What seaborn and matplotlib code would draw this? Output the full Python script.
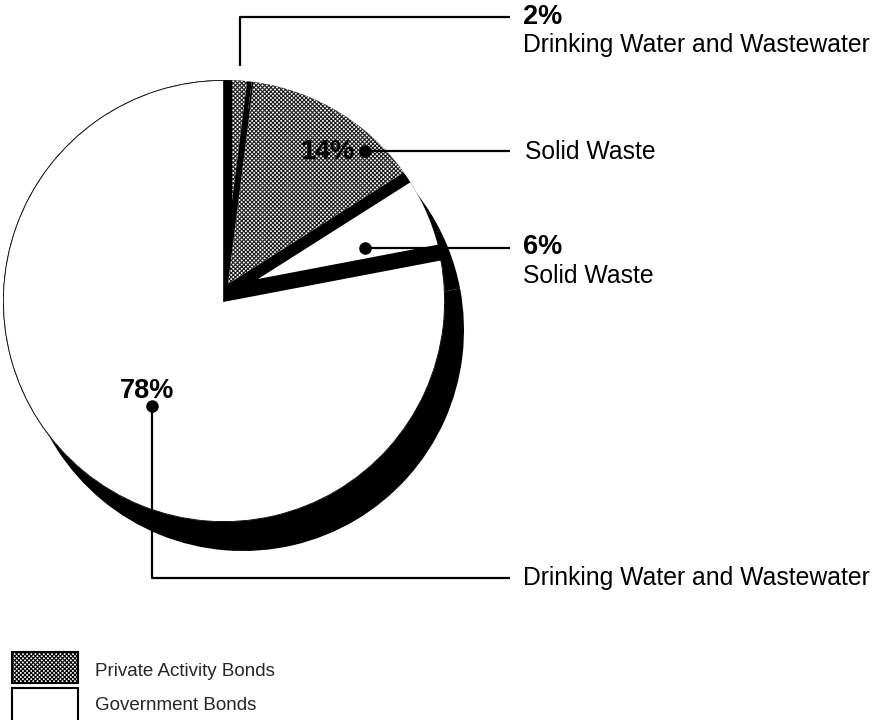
import matplotlib
matplotlib.use("Agg")
import matplotlib.pyplot as plt
from matplotlib.patches import Circle, Rectangle
import seaborn as sns

# Bond financing shares by bond type and purpose (percent)
shares = [2, 14, 6, 78]
bond_types = ["Private Activity Bonds", "Private Activity Bonds",
              "Government Bonds", "Government Bonds"]
purposes = ["Drinking Water and Wastewater", "Solid Waste",
            "Solid Waste", "Drinking Water and Wastewater"]
legend_labels = ["Private Activity Bonds", "Government Bonds"]

sns.set_theme(style="white")
plt.rcParams["font.family"] = ["Liberation Sans", "DejaVu Sans"]
plt.rcParams["hatch.linewidth"] = 0.8

fig = plt.figure(figsize=(8.75, 7.2), dpi=100)
ax = fig.add_axes([0, 0, 1, 1])

# geometry of the pie (axes units = pixels, y pointing down)
cx, cy, R = 224, 301, 221
shadow_off = (19, 29)
face_off = [(8, -100), (4, -17), (34, -22), (0, 0)]
stipple = "xxxxxxxx"

# with the y axis pointing down, counter-clockwise in data space
# runs clockwise on screen, starting from the top
common = dict(startangle=-90, counterclock=True, radius=R,
              frame=True, normalize=True)

# drop shadow and black body beneath the slice faces
ax.pie(shares, center=(cx + shadow_off[0], cy + shadow_off[1]),
       colors=["black"] * len(shares), wedgeprops=dict(linewidth=0), **common)
ax.pie(shares, center=(cx, cy),
       colors=["black"] * len(shares), wedgeprops=dict(linewidth=0), **common)

# slice faces, shifted off the body and trimmed to the pie outline
hatches = [stipple if b == legend_labels[0] else None for b in bond_types]
faces, _ = ax.pie(shares, center=(cx, cy), colors=["white"] * len(shares),
                  hatch=hatches, wedgeprops=dict(linewidth=0), **common)
outline = Circle((cx, cy), R, transform=ax.transData)
for w, off, h in zip(faces, face_off, hatches):
    w.set_center((cx + off[0], cy + off[1]))
    w.set_clip_on(True)
    w.set_clip_path(outline)
    w.set_edgecolor("#1c1c1c" if h else "black")
    w.set_linewidth(0)
faces[3].set_linewidth(1.2)

lab_kw = dict(fontsize=17.8, color="black", va="center", ha="left")
pct_kw = dict(fontsize=19.5, fontweight="bold", color="black", va="center")
line_kw = dict(color="black", lw=1.6, solid_capstyle="butt")
dot_kw = dict(marker="o", ms=8, color="black", linestyle="none")

# 2% - private activity, drinking water
ax.plot([240, 240, 510], [66, 17, 17], **line_kw)
ax.text(523, 17, f"{shares[0]}%", ha="left", **pct_kw)
ax.text(523, 45, purposes[0], **lab_kw)

# 14% - private activity, solid waste
ax.text(327, 152, f"{shares[1]}%", ha="center", **pct_kw)
ax.plot([365, 510], [151, 151], **line_kw)
ax.plot([365], [151], **dot_kw)
ax.text(525, 152, purposes[1], **lab_kw)

# 6% - government, solid waste
ax.plot([365, 510], [248, 248], **line_kw)
ax.plot([365], [248], **dot_kw)
ax.text(523, 247, f"{shares[2]}%", ha="left", **pct_kw)
ax.text(523, 276, purposes[2], **lab_kw)

# 78% - government, drinking water
ax.text(147, 391, f"{shares[3]}%", ha="center", **pct_kw)
ax.plot([152, 152, 510], [406, 578, 578], **line_kw)
ax.plot([152], [406], **dot_kw)
ax.text(523, 578, purposes[3], **lab_kw)

# legend swatches
ax.add_patch(Rectangle((12, 652), 66, 31, facecolor="white",
                       edgecolor="black", hatch=stipple, lw=1.5))
ax.add_patch(Rectangle((12, 688), 66, 45, facecolor="white",
                       edgecolor="black", lw=1.5))
ax.text(95, 671, legend_labels[0], fontsize=13.5, va="center", ha="left")
ax.text(95, 706, legend_labels[1], fontsize=13.5, va="center", ha="left")

ax.set_xlim(0, 875)
ax.set_ylim(720, 0)
ax.set_aspect("equal")
ax.axis("off")

fig.savefig("out.png", dpi=100, facecolor="white")
